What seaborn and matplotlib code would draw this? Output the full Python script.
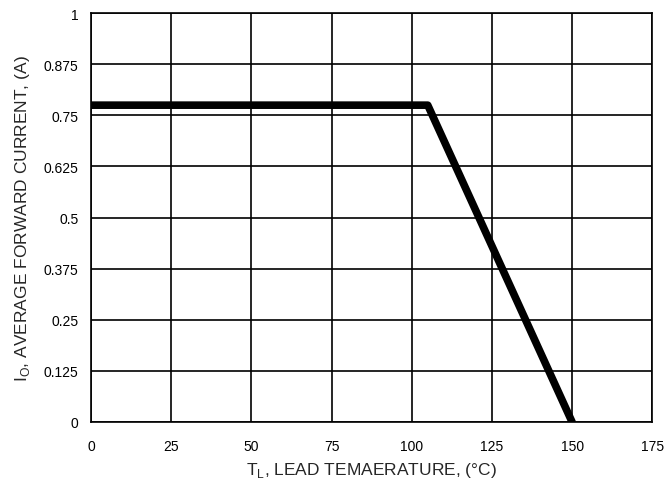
import pandas as pd
import matplotlib
matplotlib.use("Agg")
import matplotlib.pyplot as plt
import seaborn as sns

# derating curve
temp_c = [0, 105, 150]
current_a = [0.775, 0.775, 0.0]

x_ticks = [0, 25, 50, 75, 100, 125, 150, 175]
y_ticks = [0, 0.125, 0.25, 0.375, 0.5, 0.625, 0.75, 0.875, 1]
y_tick_labels = ["0", "0.125", "0.25", "0.375", "0.5", "0.625", "0.75", "0.875", "1"]

sns.set_style("white")
plt.rcParams["font.family"] = ["Liberation Sans", "DejaVu Sans"]

df = pd.DataFrame({"temp": temp_c, "current": current_a})

fig = plt.figure(figsize=(6.69, 4.89), dpi=100)
ax = fig.add_axes([0.136, 0.135, 0.839, 0.836])

sns.lineplot(data=df, x="temp", y="current", ax=ax, color="black",
             linewidth=5.5, sort=False, estimator=None, zorder=3)

ax.set_xlim(0, 175)
ax.set_ylim(0, 1)
ax.set_xticks(x_ticks)
ax.set_yticks(y_ticks)
ax.set_yticklabels(y_tick_labels)
ax.grid(True, color="black", linewidth=1.2)
for s in ax.spines.values():
    s.set_color("black")
    s.set_linewidth(1.2)
ax.tick_params(axis="both", labelsize=10, length=0, colors="black")
ax.tick_params(axis="x", pad=12)
ax.tick_params(axis="y", pad=9)

ax.set_xlabel("T$_\\mathregular{L}$, LEAD TEMAERATURE, (°C)", fontsize=12.5, labelpad=5)
ax.set_ylabel("I$_\\mathregular{O}$, AVERAGE FORWARD CURRENT, (A)", fontsize=12.5, labelpad=8)

fig.savefig("out.png", dpi=100)
